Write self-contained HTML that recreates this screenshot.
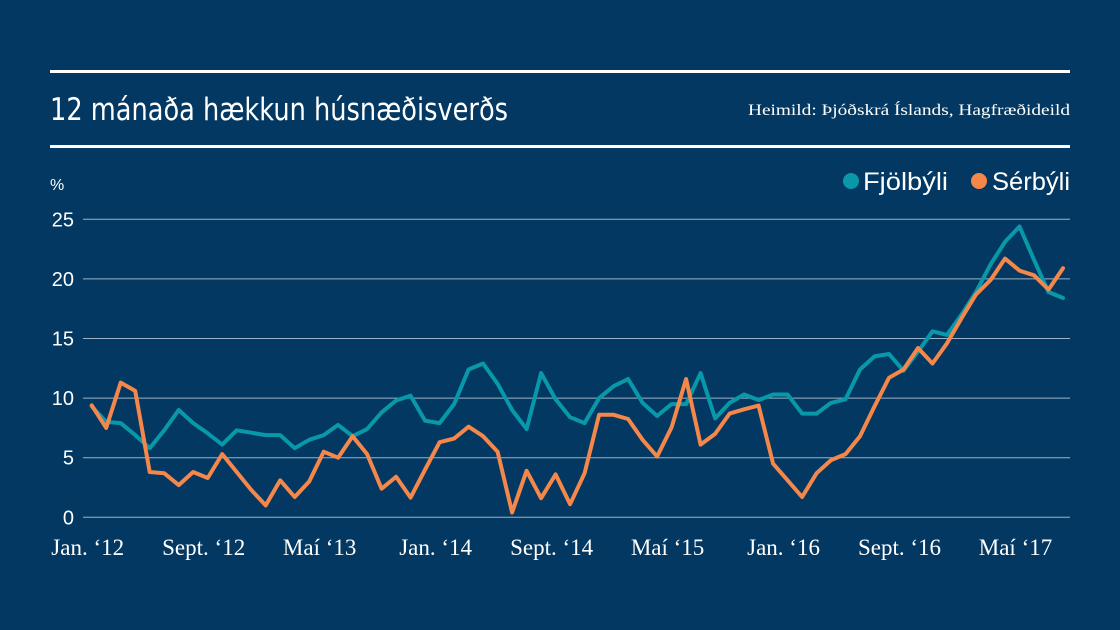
<!DOCTYPE html>
<html><head><meta charset="utf-8"><style>
html,body{margin:0;padding:0;background:#023861;}
svg{display:block;}
text{font-family:"Liberation Sans",sans-serif;fill:#fff;}
</style></head><body>
<svg id="chart" width="1120" height="630" viewBox="0 0 1120 630">
<rect width="1120" height="630" fill="#023861"/>
<rect x="50" y="70" width="1020" height="3" fill="#fff"/>
<rect x="50" y="145" width="1020" height="3" fill="#fff"/>
<text x="50" y="120" font-size="31" style="font-family:'DejaVu Sans',sans-serif" textLength="458" lengthAdjust="spacingAndGlyphs">12 mánaða hækkun húsnæðisverðs</text>
<text x="1070" y="115" font-size="16" text-anchor="end" style="font-family:'Liberation Serif',serif" textLength="322" lengthAdjust="spacingAndGlyphs">Heimild: Þjóðskrá Íslands, Hagfræðideild</text>
<text x="50" y="190" font-size="16">%</text>
<g>
<circle cx="851" cy="181" r="8" fill="#0898AA"/>
<text x="863" y="190" font-size="25" textLength="85" lengthAdjust="spacingAndGlyphs">Fjölbýli</text>
<circle cx="979" cy="181" r="8" fill="#F5874A"/>
<text x="992" y="190" font-size="25" textLength="78" lengthAdjust="spacingAndGlyphs">Sérbýli</text>
</g>
<g id="grid"></g><g id="yticks"></g><g id="xticks"></g><g id="series"></g>
</svg>
<script>
const yTicks=[0,5,10,15,20,25];
const xLabels=["Jan. ‘12","Sept. ‘12","Maí ‘13","Jan. ‘14","Sept. ‘14","Maí ‘15","Jan. ‘16","Sept. ‘16","Maí ‘17"];
const xLabelIdx=[0,8,16,24,32,40,48,56,64];
const fjolbyli=[9.3,8.0,7.9,6.9,5.8,7.3,9.0,7.9,7.05,6.1,7.3,7.1,6.9,6.9,5.8,6.5,6.9,7.75,6.8,7.4,8.8,9.8,10.2,8.1,7.9,9.5,12.4,12.9,11.2,9.0,7.4,12.1,9.9,8.4,7.9,10.0,11.0,11.6,9.6,8.5,9.5,9.5,12.1,8.3,9.6,10.3,9.84,10.3,10.3,8.7,8.7,9.6,9.9,12.4,13.5,13.7,12.3,13.9,15.6,15.3,17.0,18.9,21.2,23.1,24.4,21.6,18.9,18.4];
const serbyli=[9.4,7.5,11.3,10.6,3.8,3.7,2.7,3.8,3.3,5.3,3.8,2.3,1.0,3.1,1.7,3.0,5.5,5.0,6.8,5.3,2.4,3.4,1.65,4.0,6.3,6.6,7.6,6.8,5.5,0.4,3.9,1.6,3.6,1.1,3.7,8.6,8.6,8.25,6.5,5.1,7.55,11.6,6.1,7.0,8.7,9.06,9.37,4.5,3.1,1.7,3.7,4.8,5.3,6.8,9.3,11.7,12.4,14.2,12.9,14.6,16.7,18.7,19.9,21.7,20.7,20.3,19.1,20.9];
const X0=91.7,X1=1063,Y0=517.3,Y25=219.3;
const n=fjolbyli.length;
function xs(i){return X0+(X1-X0)*i/(n-1);}
function ys(v){return Y0-(Y0-Y25)*v/25;}
const NS="http://www.w3.org/2000/svg";
function mk(tag,attrs,parent){const e=document.createElementNS(NS,tag);for(const k in attrs)e.setAttribute(k,attrs[k]);document.getElementById(parent).appendChild(e);return e;}
yTicks.forEach(t=>{
  const l=mk("line",{x1:83,x2:1070,y1:ys(t),y2:ys(t),stroke:"#9fb3c6","stroke-width":1},"grid");
  
  
  const tx=mk("text",{x:74,y:ys(t)+7,"font-size":20,"text-anchor":"end"},"yticks");
  tx.textContent=t;
  
  
});
xLabels.forEach((s,k)=>{
  const tx=mk("text",{x:xs(xLabelIdx[k])-4,y:555,"font-size":23,"text-anchor":"middle",style:"font-family:'Liberation Serif',serif"},"xticks");
  tx.textContent=s;
  
  
});
function line(data,color,name){
  const d=data.map((v,i)=>(i?"L":"M")+xs(i).toFixed(1)+","+ys(v).toFixed(1)).join("");
  const p=mk("path",{d:d,fill:"none",stroke:color,"stroke-width":4,"stroke-linejoin":"round","stroke-linecap":"round"},"series");
  
  
}
line(fjolbyli,"#0898AA","line-fjolbyli");
line(serbyli,"#F5874A","line-serbyli");
</script>
</body></html>
